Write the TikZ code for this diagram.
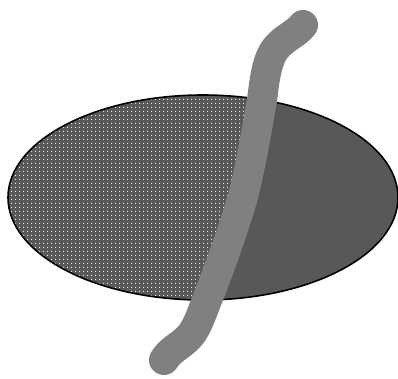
\documentclass[tikz,border=0pt]{standalone}
\usetikzlibrary{patterns.meta}
\definecolor{darkfill}{HTML}{585858}
\definecolor{strokegray}{HTML}{808080}
\tikzset{
  outline/.style={draw=black, line width=1.6pt},
  brush/.style={draw=strokegray, line width=30pt, line cap=round, line join=round},
}
\begin{document}
\begin{tikzpicture}[x=1pt,y=-1pt]
\useasboundingbox (0,0) rectangle (398,378);
% solid body
\fill[darkfill] (203,197.5) ellipse [x radius=195, y radius=102.5];
% dotted left part
\begin{scope}
  \clip (203,197.5) ellipse [x radius=195, y radius=102.5];
  \fill[pattern={Dots[distance=4pt, radius=0.8pt]}, pattern color=white!90!gray]
    (0,0) -- (278,0) -- (262,100) .. controls (252,150) .. (242,200)
    .. controls (225,250) .. (207,300) -- (190,378) -- (0,378) -- cycle;
\end{scope}
\draw[outline] (203,197.5) ellipse [x radius=195, y radius=102.5];
% brush stroke
\draw[brush] (303,25) .. controls (296,34) and (284,38) .. (276,48)
  .. controls (266,60) and (264,85) .. (262,100)
  .. controls (255,140) and (250,170) .. (242,200)
  .. controls (230,240) and (215,280) .. (207,300)
  .. controls (200,318) and (196,330) .. (188,338)
  .. controls (180,346) and (170,350) .. (164,360);
\end{tikzpicture}
\end{document}
